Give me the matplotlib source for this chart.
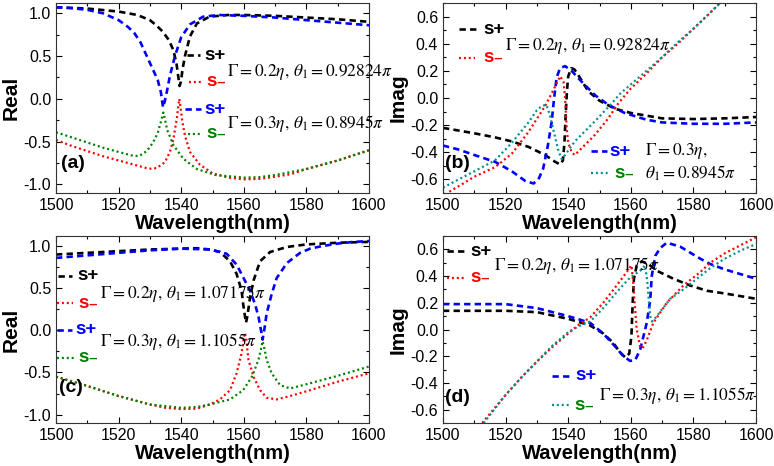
import numpy as np
import matplotlib
matplotlib.use("Agg")
import matplotlib.pyplot as plt
from matplotlib.lines import Line2D
from matplotlib.ticker import MultipleLocator, FormatStrFormatter

plt.rcParams['font.family'] = ['Liberation Sans', 'DejaVu Sans']
plt.rcParams['mathtext.fontset'] = 'stix'
plt.rcParams['axes.unicode_minus'] = False

# ---- data (wavelength in nm) ----
# (a) real part
a_sp1_x = [1500, 1510, 1520, 1526, 1530, 1532, 1534, 1536, 1537.5, 1538.5, 1539.1, 1539.5, 1539.9,
           1540.5, 1541.2, 1542.8, 1545, 1549, 1555, 1560, 1570, 1580, 1590, 1600]
a_sp1_y = [1.07, 1.055, 1.02, 0.98, 0.92, 0.86, 0.79, 0.69, 0.57, 0.41, 0.25, 0.15, 0.20,
           0.36, 0.50, 0.73, 0.88, 0.96, 0.98, 0.98, 0.97, 0.95, 0.93, 0.90]
a_sp2_x = [1500, 1505, 1510, 1515, 1520, 1523, 1525, 1527, 1529, 1531, 1532.5, 1533.5, 1534.2,
           1534.8, 1535.5, 1536.4, 1538, 1540, 1542.8, 1547, 1552, 1560, 1570, 1580, 1590, 1600]
a_sp2_y = [1.07, 1.06, 1.04, 1.00, 0.92, 0.84, 0.77, 0.66, 0.50, 0.34, 0.22, 0.08, -0.10,
           -0.02, 0.10, 0.27, 0.50, 0.72, 0.87, 0.96, 0.98, 0.97, 0.95, 0.92, 0.89, 0.86]
a_sm1_x = [1500, 1505, 1510, 1515, 1520, 1525, 1529, 1531, 1532.5, 1534.8, 1536.4, 1537.5, 1538.6,
           1539.1, 1539.4, 1539.8, 1540.3, 1541.2, 1542.8, 1546, 1550, 1555, 1560, 1565, 1570,
           1575, 1580, 1590, 1600]
a_sm1_y = [-0.48, -0.55, -0.61, -0.67, -0.72, -0.77, -0.81, -0.82, -0.80, -0.74, -0.62, -0.47, -0.23,
           -0.08, 0.0, -0.10, -0.25, -0.43, -0.62, -0.77, -0.87, -0.92, -0.94, -0.935, -0.91,
           -0.88, -0.82, -0.72, -0.60]
a_sm2_x = [1500, 1505, 1510, 1515, 1520, 1524, 1526.5, 1529, 1531, 1532.5, 1533.5, 1534.3, 1535,
           1535.5, 1537.5, 1540.7, 1545, 1551, 1560, 1565, 1570, 1580, 1590, 1600]
a_sm2_y = [-0.39, -0.45, -0.51, -0.57, -0.62, -0.66, -0.67, -0.61, -0.51, -0.40, -0.27, -0.16, -0.27,
           -0.36, -0.54, -0.70, -0.82, -0.89, -0.92, -0.915, -0.89, -0.82, -0.72, -0.60]

# (b) imaginary part
b_sp1_x = [1500, 1505, 1510, 1516.6, 1522, 1527.3, 1532.6, 1535.8, 1537.4, 1538.3, 1538.8, 1539.2,
           1539.6, 1540, 1541, 1542, 1543.2, 1546.4, 1550, 1555, 1560, 1565, 1570, 1580, 1590, 1600]
b_sp1_y = [-0.22, -0.24, -0.26, -0.29, -0.32, -0.36, -0.42, -0.47, -0.49, -0.46, -0.33, -0.12,
           0.05, 0.16, 0.22, 0.21, 0.17, 0.05, -0.02, -0.08, -0.11, -0.13, -0.15, -0.155, -0.15, -0.14]
b_sp2_x = [1500, 1505, 1510, 1516.6, 1522, 1526.2, 1528.9, 1530.5, 1532, 1533.5, 1534.7, 1535.5,
           1536.3, 1537.4, 1539, 1541.1, 1544.3, 1548.6, 1552.8, 1558, 1565, 1570, 1580, 1590, 1600]
b_sp2_y = [-0.35, -0.38, -0.42, -0.47, -0.54, -0.61, -0.63, -0.60, -0.52, -0.35, -0.18, 0.0,
           0.15, 0.22, 0.235, 0.20, 0.12, 0.02, -0.05, -0.11, -0.16, -0.18, -0.19, -0.19, -0.18]
b_sm1_x = [1502, 1505, 1510, 1516.6, 1522, 1527.3, 1532.6, 1535.3, 1537.4, 1538.5, 1539, 1539.5,
           1540, 1541.1, 1542.1, 1544.3, 1548.6, 1552.8, 1556, 1560, 1565, 1570, 1575, 1580, 1585,
           1588.5]
b_sm1_y = [-0.69, -0.65, -0.58, -0.51, -0.41, -0.25, -0.06, 0.06, 0.16, 0.12, 0.0, -0.22,
           -0.33, -0.40, -0.42, -0.37, -0.27, -0.15, -0.04, 0.07, 0.18, 0.30, 0.40, 0.51, 0.62,
           0.70]
b_sm2_x = [1500, 1505, 1510, 1516.6, 1522, 1527.3, 1530, 1531.5, 1533, 1534.1, 1535.3, 1536.9,
           1537.9, 1539, 1542.1, 1548.6, 1553.9, 1556.5, 1560, 1565, 1570, 1575, 1580, 1585, 1588.5]
b_sm2_y = [-0.66, -0.60, -0.54, -0.46, -0.33, -0.18, -0.09, -0.06, -0.05, -0.12, -0.24, -0.39,
           -0.45, -0.42, -0.32, -0.17, -0.04, 0.03, 0.10, 0.20, 0.30, 0.41, 0.51, 0.62, 0.70]

# (c) real part
c_sp1_x = [1500, 1510, 1520, 1530, 1540, 1545, 1549.2, 1552.4, 1555.6, 1557.7, 1559.3, 1559.8,
           1560.4, 1560.7, 1561.1, 1561.5, 1562, 1563.1, 1565.2, 1568.4, 1573.8, 1580, 1590, 1600]
c_sp1_y = [0.90, 0.92, 0.94, 0.96, 0.97, 0.975, 0.96, 0.93, 0.82, 0.67, 0.47, 0.31,
           0.16, 0.09, 0.16, 0.26, 0.39, 0.59, 0.82, 0.93, 0.99, 1.02, 1.04, 1.05]
c_sp2_x = [1500, 1510, 1520, 1530, 1540, 1549.2, 1554.5, 1557.7, 1559.8, 1562, 1563.6, 1564.7,
           1565.5, 1566, 1566.6, 1567.3, 1568.9, 1570.5, 1573.8, 1578, 1581.2, 1585, 1590, 1595, 1600]
c_sp2_y = [0.86, 0.89, 0.92, 0.95, 0.97, 0.96, 0.91, 0.78, 0.63, 0.47, 0.31, 0.16,
           0.0, -0.11, 0.02, 0.20, 0.43, 0.62, 0.80, 0.92, 0.97, 1.00, 1.03, 1.05, 1.06]
c_sm1_x = [1500, 1510, 1520, 1530, 1535, 1540, 1545, 1549.2, 1552.4, 1555.6, 1557.7, 1559.3,
           1560, 1560.4, 1560.9, 1561.5, 1563.1, 1565.2, 1567.3, 1570.5, 1574.8, 1581.2, 1590, 1600]
c_sm1_y = [-0.55, -0.66, -0.78, -0.88, -0.92, -0.935, -0.93, -0.88, -0.82, -0.71, -0.51, -0.27,
           -0.10, -0.03, -0.15, -0.35, -0.55, -0.71, -0.80, -0.82, -0.78, -0.71, -0.61, -0.51]
c_sm2_x = [1500, 1510, 1520, 1530, 1540, 1545, 1549.2, 1555.6, 1559.8, 1562.6, 1564.7, 1565.5,
           1566, 1566.6, 1567.3, 1568.9, 1571.6, 1574.8, 1580, 1590, 1600]
c_sm2_y = [-0.55, -0.66, -0.78, -0.88, -0.92, -0.91, -0.88, -0.82, -0.71, -0.55, -0.35, -0.22,
           -0.13, -0.22, -0.35, -0.51, -0.65, -0.69, -0.64, -0.54, -0.43]

# (d) imaginary part
d_sp1_x = [1500, 1510, 1520, 1530, 1540, 1545, 1547, 1551.2, 1554.4, 1556.5, 1558.3, 1559.5,
           1560.2, 1560.6, 1561, 1561.9, 1563.5, 1565.6, 1568.3, 1573.6, 1578.9, 1584.3, 1590, 1600]
d_sp1_y = [0.14, 0.14, 0.14, 0.13, 0.08, 0.045, 0.03, -0.03, -0.10, -0.17, -0.21, -0.18,
           -0.05, 0.20, 0.38, 0.48, 0.51, 0.49, 0.44, 0.38, 0.33, 0.29, 0.27, 0.23]
d_sp2_x = [1500, 1510, 1520, 1530, 1540, 1547, 1551.2, 1555.5, 1557.6, 1559.8, 1561.4, 1563,
           1565.1, 1566.2, 1566.7, 1567.8, 1569.4, 1571.5, 1575.8, 1582.2, 1585.4, 1590, 1600]
d_sp2_y = [0.19, 0.19, 0.19, 0.16, 0.10, 0.05, -0.03, -0.14, -0.20, -0.235, -0.23, -0.15,
           0.05, 0.22, 0.40, 0.55, 0.61, 0.65, 0.62, 0.53, 0.49, 0.45, 0.38]
d_sm1_x = [1512.5, 1515, 1520, 1525, 1530, 1535, 1540, 1543, 1547, 1551.2, 1555.5, 1558.7,
           1560.2, 1560.8, 1561.3, 1561.9, 1563, 1563.8, 1565.1, 1567.2, 1571.5, 1576.8, 1582.2,
           1585.4, 1590, 1595, 1600]
d_sm1_y = [-0.70, -0.63, -0.49, -0.36, -0.24, -0.13, -0.03, 0.03, 0.09, 0.20, 0.33, 0.43,
           0.48, 0.35, 0.18, 0.0, -0.13, -0.14, -0.08, 0.05, 0.20, 0.33, 0.43,
           0.50, 0.57, 0.63, 0.69]
d_sm2_x = [1513, 1515, 1520, 1525, 1530, 1535, 1540, 1543, 1547, 1551.2, 1555.5, 1559.8, 1563,
           1564.6, 1565.3, 1565.7, 1566.2, 1566.8, 1568.3, 1572.6, 1576.8, 1582.2, 1585.4, 1590,
           1595, 1600]
d_sm2_y = [-0.70, -0.64, -0.49, -0.36, -0.24, -0.12, -0.02, 0.02, 0.06, 0.16, 0.28, 0.39, 0.44,
           0.48, 0.35, 0.23, 0.10, 0.06, 0.10, 0.23, 0.30, 0.40, 0.46, 0.53,
           0.59, 0.64]

W, H = 774, 466
BLACK, RED, BLUE, GREEN, TEAL = '#000000', '#ff0000', '#0000ff', '#008000', '#009090'
DASH = (0, (2.4, 1.6))
DOT = (0, (0.9, 1.3))

fig = plt.figure(figsize=(W / 100, H / 100), dpi=100)


def make_ax(x0, x1, ytop, ybot, ylim, ystep, ylabel):
    ax = fig.add_axes([x0 / W, 1 - ybot / H, (x1 - x0) / W, (ybot - ytop) / H])
    ax.set_xlim(1500, 1600)
    ax.set_ylim(*ylim)
    ax.xaxis.set_major_locator(MultipleLocator(20))
    ax.xaxis.set_minor_locator(MultipleLocator(10))
    ax.yaxis.set_major_locator(MultipleLocator(ystep))
    ax.yaxis.set_minor_locator(MultipleLocator(ystep / 2))
    ax.yaxis.set_major_formatter(FormatStrFormatter('%.1f'))
    ax.tick_params(which='both', direction='in', top=True, right=True, labelsize=11.5, width=0.8)
    ax.tick_params(which='major', length=4)
    ax.tick_params(which='minor', length=2.5)
    ax.set_xlabel('Wavelength(nm)', fontsize=14.5, fontweight='bold', labelpad=1)
    ax.set_ylabel(ylabel, fontsize=15, fontweight='bold', labelpad=2)
    for s in ax.spines.values():
        s.set_color('#333333')
    return ax


def curve(ax, x, y, color, ls):
    ax.plot(x, y, color=color, linestyle=ls, lw=1.9 if ls is DASH else 1.6)


def key(x0, x1, y, color, ls, label, tx, tcolor):
    yy = 1 - y / H
    fig.add_artist(Line2D([x0 / W, x1 / W], [yy, yy], color=color, linestyle=ls,
                          lw=1.9 if ls is DASH else 1.6))
    fig.text(tx / W, yy, label, color=tcolor, fontsize=13.5, fontweight='bold', va='center')


def note(x, y, s):
    fig.text(x / W, 1 - y / H, s, fontsize=12.5, va='center', ha='left')


def tag(x, y, s):
    fig.text(x / W, 1 - y / H, s, fontsize=14, fontweight='bold', va='center')


REAL_LIM = (-1.1, 1.12)
IMAG_LIM = (-0.7, 0.7)

ax_a = make_ax(56, 369, 3, 193, REAL_LIM, 0.5, 'Real')
curve(ax_a, a_sp1_x, a_sp1_y, BLACK, DASH)
curve(ax_a, a_sp2_x, a_sp2_y, BLUE, DASH)
curve(ax_a, a_sm1_x, a_sm1_y, RED, DOT)
curve(ax_a, a_sm2_x, a_sm2_y, GREEN, DOT)

ax_b = make_ax(443, 756, 3, 193, IMAG_LIM, 0.2, 'Imag')
curve(ax_b, b_sp1_x, b_sp1_y, BLACK, DASH)
curve(ax_b, b_sp2_x, b_sp2_y, BLUE, DASH)
curve(ax_b, b_sm1_x, b_sm1_y, RED, DOT)
curve(ax_b, b_sm2_x, b_sm2_y, TEAL, DOT)

ax_c = make_ax(56, 369, 236, 423, REAL_LIM, 0.5, 'Real')
curve(ax_c, c_sp1_x, c_sp1_y, BLACK, DASH)
curve(ax_c, c_sp2_x, c_sp2_y, BLUE, DASH)
curve(ax_c, c_sm1_x, c_sm1_y, RED, DOT)
curve(ax_c, c_sm2_x, c_sm2_y, GREEN, DOT)

ax_d = make_ax(443, 756, 236, 423, IMAG_LIM, 0.2, 'Imag')
curve(ax_d, d_sp1_x, d_sp1_y, BLACK, DASH)
curve(ax_d, d_sp2_x, d_sp2_y, BLUE, DASH)
curve(ax_d, d_sm1_x, d_sm1_y, RED, DOT)
curve(ax_d, d_sm2_x, d_sm2_y, TEAL, DOT)

SP, SM = 's+', 's\u208b'

# panel (a)
key(187, 200, 55, BLACK, DASH, SP, 204, BLACK)
note(227, 72, r'$\Gamma = 0.2\eta,\,\theta_1 = 0.92824\pi$')
key(189, 202, 82, RED, DOT, SM, 206, RED)
key(185, 201, 109, BLUE, DASH, SP, 204, BLUE)
note(227, 123, r'$\Gamma = 0.3\eta,\,\theta_1 = 0.8945\pi$')
key(188, 202, 134, GREEN, DOT, SM, 206, GREEN)
tag(61, 163, '(a)')

# panel (b)
key(459, 476, 29, BLACK, DASH, SP, 483, BLACK)
note(505, 46, r'$\Gamma = 0.2\eta,\,\theta_1 = 0.92824\pi$')
key(459, 475, 58, RED, DOT, SM, 483, RED)
key(591, 607, 151, BLUE, DASH, SP, 609, BLUE)
note(645, 151, r'$\Gamma = 0.3\eta,$')
key(591, 609, 173, TEAL, DOT, SM, 614, GREEN)
note(645, 173, r'$\theta_1 = 0.8945\pi$')
tag(445, 163, '(b)')

# panel (c)
key(58, 72, 276, BLACK, DASH, SP, 77, BLACK)
note(100, 293, r'$\Gamma = 0.2\eta,\,\theta_1 = 1.07175\pi$')
key(57, 73, 303, RED, DOT, SM, 78, RED)
key(57, 72, 330, BLUE, DASH, SP, 75, BLUE)
note(100, 342, r'$\Gamma = 0.3\eta,\,\theta_1 = 1.1055\pi$')
key(57, 75, 358, GREEN, DOT, SM, 78, GREEN)
tag(59, 388, '(c)')

# panel (d)
key(447, 465, 251, BLACK, DASH, SP, 470, BLACK)
note(494, 265, r'$\Gamma = 0.2\eta,\,\theta_1 = 1.07175\pi$')
key(447, 465, 278, RED, DOT, SM, 470, RED)
key(552, 572, 376, BLUE, DASH, SP, 575, BLUE)
note(599, 395, r'$\Gamma = 0.3\eta,\,\theta_1 = 1.1055\pi$')
key(552, 570, 405, TEAL, DOT, SM, 574, GREEN)
tag(445, 398, '(d)')

fig.savefig('out.png', dpi=100)
